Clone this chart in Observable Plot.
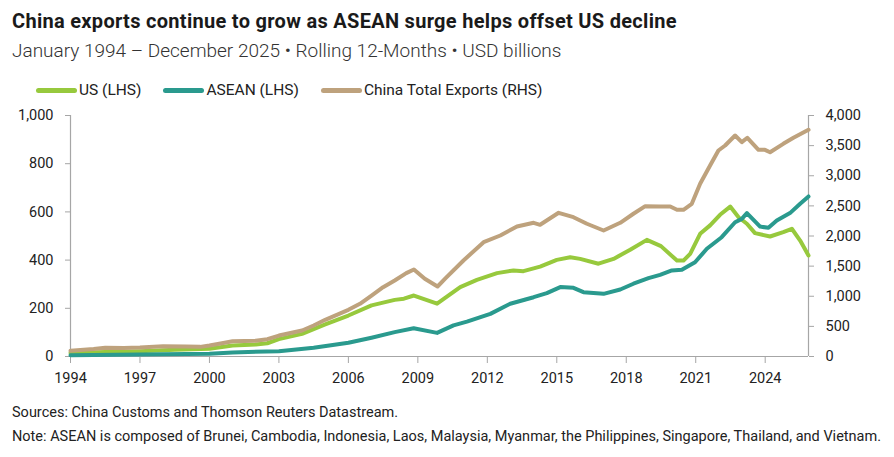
<!DOCTYPE html>
<html>
<head>
<meta charset="utf-8">
<script src="https://cdn.jsdelivr.net/npm/d3@7"></script>
<script src="https://cdn.jsdelivr.net/npm/@observablehq/plot@0.6"></script>
<style>
  body { margin: 0; background: #fff; font-family: Roboto, "Noto Sans", sans-serif; color: #222; }
  #wrap { position: relative; width: 894px; height: 457px; overflow: hidden; }
  .abs { position: absolute; white-space: nowrap; }
  #title { left: 12px; top: 9px; font-size: 20px; letter-spacing: 0.3px; font-weight: 700; color: #1a1a1a; }
  #subtitle { left: 12px; top: 39px; font-size: 19px; font-weight: 300; color: #333; }
  #legend { left: 36px; top: 81px; font-size: 15.5px; display: flex; align-items: center; color: #222; }
  .item { display: flex; align-items: center; margin-right: 22px; }
  .sw { width: 41px; height: 5px; border-radius: 3px; margin-right: 2px; }
  #chart { left: 0; top: 100px; }
  #src { left: 12px; top: 404px; font-size: 14.5px; color: #222; }
  #note { left: 12px; top: 428px; font-size: 14.5px; color: #222; }
</style>
</head>
<body>
<div id="wrap">
  <div id="title" class="abs">China exports continue to grow as ASEAN surge helps offset US decline</div>
  <div id="subtitle" class="abs">January 1994 – December 2025 • Rolling 12-Months • USD billions</div>
  <div id="legend" class="abs"></div>
  <div id="chart" class="abs"></div>
  <div id="src" class="abs">Sources: China Customs and Thomson Reuters Datastream.</div>
  <div id="note" class="abs">Note: ASEAN is composed of Brunei, Cambodia, Indonesia, Laos, Malaysia, Myanmar, the Philippines, Singapore, Thailand, and Vietnam.</div>
</div>
<script>
// ---- Data ----
const seriesNames = ["US (LHS)", "ASEAN (LHS)", "China Total Exports (RHS)"];
const seriesColors = ["#97c93d", "#2a9a8e", "#bea27d"];

const usYears = [1994.0,1995.5,1997.0,1998.5,2000.0,2001.0,2002.0,2002.5,2003.0,2004.0,2005.0,2006.0,2007.0,2008.0,2008.4,2008.83,2009.83,2010.83,2011.55,2012.42,2013.13,2013.56,2014.28,2015.0,2015.58,2016.01,2016.8,2017.45,2018.17,2018.89,2019.5,2020.19,2020.47,2020.76,2021.19,2021.62,2022.05,2022.49,2022.85,2023.21,2023.56,2024.21,2024.78,2025.15,2025.51,2025.87];
const usValues = [15,19,22,28,32,46,50,55,72,94,133,170,212,235,240,253,219,288,318,346,357,354,373,401,412,405,385,405,443,484,458,398,398,426,509,544,588,622,578,551,512,498,516,530,481,419];

const aseanYears = [1994.0,1997.0,2000.0,2001.0,2003.0,2004.5,2006.0,2007.0,2008.0,2008.82,2009.83,2010.54,2011.12,2012.13,2012.99,2014.0,2014.57,2015.15,2015.72,2016.15,2017.02,2017.74,2018.31,2018.96,2019.46,2019.97,2020.4,2020.97,2021.48,2022.12,2022.7,2022.99,2023.21,2023.78,2024.14,2024.5,2025.07,2025.51,2025.87];
const aseanValues = [5,8,11,17,22,36,57,78,101,117,98,129,145,177,219,246,263,288,285,267,260,278,302,325,339,357,360,391,447,495,557,571,595,539,534,564,595,634,664];

const chinaYears = [1994.0,1995.0,1995.5,1996.3,1997.0,1998.0,1999.0,1999.6,2000.0,2000.6,2001.0,2002.0,2002.5,2003.0,2004.0,2004.5,2005.0,2006.0,2006.5,2007.0,2007.5,2008.0,2008.5,2008.83,2009.3,2009.85,2010.2,2010.97,2011.84,2012.56,2013.28,2014.0,2014.28,2015.08,2015.72,2016.3,2017.02,2017.74,2018.31,2018.82,2019.46,2019.9,2020.19,2020.47,2020.83,2021.19,2021.62,2021.98,2022.27,2022.7,2022.99,2023.23,2023.71,2023.99,2024.21,2024.78,2025.22,2025.87];
const chinaValues = [95,125,145,140,148,171,165,160,183,225,254,260,287,348,431,514,609,775,875,1012,1150,1261,1383,1444,1290,1162,1300,1594,1897,2008,2158,2219,2186,2385,2312,2203,2091,2219,2369,2495,2490,2490,2435,2435,2534,2866,3170,3419,3502,3668,3557,3630,3430,3430,3391,3530,3630,3763];

const xTicks = [1994,1997,2000,2003,2006,2009,2012,2015,2018,2021,2024];
const leftTicks = [0,200,400,600,800,1000];
const rightTicks = [0,500,1000,1500,2000,2500,3000,3500,4000];
const rhsRatio = 4; // RHS 4,000 aligns with LHS 1,000

// ---- Build rows ----
const rows = [
  ...usYears.map((y, i) => ({year: y, value: usValues[i], series: seriesNames[0]})),
  ...aseanYears.map((y, i) => ({year: y, value: aseanValues[i], series: seriesNames[1]})),
  ...chinaYears.map((y, i) => ({year: y, value: chinaValues[i] / rhsRatio, series: seriesNames[2]}))
];

// ---- Legend ----
const legend = document.getElementById("legend");
seriesNames.forEach((n, i) => {
  const it = document.createElement("div");
  it.className = "item";
  it.innerHTML = `<div class="sw" style="background:${seriesColors[i]}"></div><span>${n}</span>`;
  legend.appendChild(it);
});

const fmt = d3.format(",");
const axisColor = "#a6a6a6";
const xDomain = [1994, 2025.87];

const chart = Plot.plot({
  width: 894,
  height: 291,
  marginLeft: 70,
  marginRight: 86,
  marginTop: 15,
  marginBottom: 35,
  style: {fontFamily: "Roboto, 'Noto Sans', sans-serif", fontSize: "14px", color: "#222", background: "transparent"},
  x: {domain: xDomain},
  y: {domain: [0, 1000]},
  color: {domain: seriesNames, range: seriesColors},
  marks: [
    Plot.ruleY([0], {stroke: axisColor, strokeWidth: 1.2}),
    Plot.ruleX([xDomain[0]], {stroke: axisColor, strokeWidth: 1.2}),
    Plot.ruleX([xDomain[1]], {stroke: axisColor, strokeWidth: 1.2}),
    Plot.axisX({ticks: xTicks, tickFormat: d => String(d), tickSize: 7, tickPadding: 9, stroke: axisColor, color: "#222", label: null, fontSize: 14.5}),
    Plot.axisY({anchor: "left", ticks: leftTicks, tickFormat: fmt, tickSize: 5, tickPadding: 12, stroke: axisColor, label: null, fontSize: 14.5}),
    Plot.axisY({anchor: "right", ticks: rightTicks.map(t => t / rhsRatio), tickFormat: d => fmt(Math.round(d * rhsRatio)), tickSize: 5, tickPadding: 12, stroke: axisColor, label: null, fontSize: 14.5}),
    Plot.line(rows, {x: "year", y: "value", z: "series", stroke: "series", strokeWidth: 4, strokeLinejoin: "round", strokeLinecap: "round"})
  ]
});
document.getElementById("chart").appendChild(chart);
</script>
</body>
</html>
